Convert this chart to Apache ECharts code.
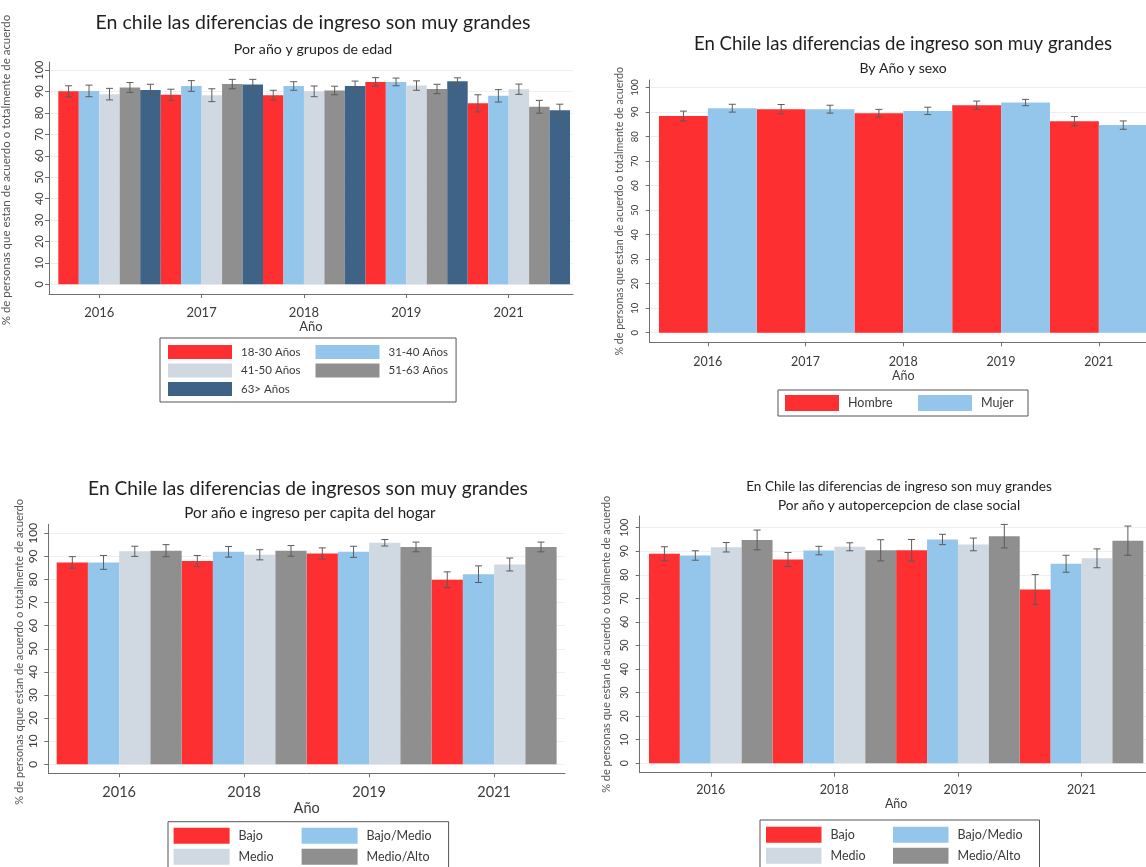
<!DOCTYPE html>
<html><head><meta charset="utf-8">
<script src="https://cdn.jsdelivr.net/npm/echarts@6/dist/echarts.min.js"></script>
<style>html,body{margin:0;padding:0;background:#fff}#c{width:1146px;height:867px}</style>
</head><body><div id="c"></div>
<script>
// ---------- data ----------
const YEARS_A = ['2016','2017','2018','2019','2021'];
const YEARS_B = ['2016','2018','2019','2021'];
const Y_TICKS = [0,10,20,30,40,50,60,70,80,90,100];

// Panel 1: por año y grupos de edad
const AGE_NAMES = ['18-30 Años','31-40 Años','41-50 Años','51-63 Años','63> Años'];
const AGE_18_30 = [90.1, 88.5, 88.3, 94.5, 84.5];
const AGE_31_40 = [90.3, 92.6, 92.6, 94.5, 88.0];
const AGE_41_50 = [88.8, 88.3, 90.1, 92.8, 91.1];
const AGE_51_63 = [91.9, 93.5, 90.5, 91.2, 82.9];
const AGE_63_UP = [90.7, 93.3, 92.6, 94.8, 81.3];
const AGE_18_30_ERR = [2.6, 2.6, 2.3, 2.0, 4.0];
const AGE_31_40_ERR = [2.7, 2.5, 2.0, 1.8, 2.9];
const AGE_41_50_ERR = [2.7, 3.0, 2.5, 2.2, 2.4];
const AGE_51_63_ERR = [2.3, 2.2, 2.0, 2.2, 3.0];
const AGE_63_UP_ERR = [2.7, 2.4, 2.3, 1.6, 2.8];

// Panel 2: por año y sexo
const SEX_NAMES = ['Hombre','Mujer'];
const HOMBRE = [88.4, 91.2, 89.5, 92.8, 86.3];
const MUJER  = [91.6, 91.2, 90.5, 93.9, 84.7];
const HOMBRE_ERR = [2.0, 1.9, 1.6, 1.7, 1.9];
const MUJER_ERR  = [1.6, 1.6, 1.5, 1.3, 1.7];

// Panel 3: ingreso per capita del hogar
const LEVEL_NAMES = ['Bajo','Bajo/Medio','Medio','Medio/Alto'];
const ING_BAJO       = [87.4, 88.0, 91.3, 79.9];
const ING_BAJO_MEDIO = [87.4, 92.0, 92.0, 82.3];
const ING_MEDIO      = [92.2, 90.7, 95.9, 86.5];
const ING_MEDIO_ALTO = [92.5, 92.4, 94.1, 94.1];
const ING_BAJO_ERR       = [2.5, 2.4, 2.4, 3.4];
const ING_BAJO_MEDIO_ERR = [3.0, 2.3, 2.4, 3.6];
const ING_MEDIO_ERR      = [2.2, 2.2, 1.4, 2.8];
const ING_MEDIO_ALTO_ERR = [2.6, 2.3, 2.1, 2.1];

// Panel 4: autopercepcion de clase social
const CLS_BAJO       = [88.9, 86.5, 90.4, 73.8];
const CLS_BAJO_MEDIO = [88.2, 90.3, 95.0, 84.7];
const CLS_MEDIO      = [91.7, 91.9, 92.9, 87.0];
const CLS_MEDIO_ALTO = [94.8, 90.4, 96.4, 94.5];
const CLS_BAJO_ERR       = [3.0, 3.0, 4.6, 6.3];
const CLS_BAJO_MEDIO_ERR = [2.0, 1.8, 2.2, 3.6];
const CLS_MEDIO_ERR      = [2.0, 1.7, 2.7, 4.0];
const CLS_MEDIO_ALTO_ERR = [4.2, 4.5, 5.0, 6.2];

// ---------- style ----------
const FONT = 'Lato';
const RED = '#fd2f30', LBLUE = '#93c6ea', LGRAY = '#d0d9e2', GRAY = '#8f8f8f', DBLUE = '#3f6387';
const AX = '#6f6f6f', ERRC = '#5c5c5c', TXT = '#3a3a3a';

function barSeries(name, color, values, errs, k, n, gi) {
  const half = Math.floor(n / 2);
  return {
    type: 'custom', name: name, xAxisIndex: gi, yAxisIndex: gi,
    itemStyle: { color: color },
    data: values.map((v, g) => [g, v, errs[g]]),
    encode: { x: 0, y: 1 },
    renderItem: function (params, api) {
      const g = api.value(0), v = api.value(1), e = api.value(2);
      const x0 = g - half / n + k / n, x1 = x0 + 1 / n, xc = (x0 + x1) / 2;
      const a = api.coord([x0, v]), b = api.coord([x1, 0]);
      const lo = api.coord([xc, v - e]), hi = api.coord([xc, v + e]);
      const cw = 3.5;
      return { type: 'group', children: [
        { type: 'rect', shape: { x: a[0], y: a[1], width: b[0] - a[0], height: b[1] - a[1] }, style: { fill: color } },
        { type: 'line', shape: { x1: lo[0], y1: lo[1], x2: hi[0], y2: hi[1] }, style: { stroke: ERRC, lineWidth: 1 } },
        { type: 'line', shape: { x1: lo[0] - cw, y1: lo[1], x2: lo[0] + cw, y2: lo[1] }, style: { stroke: ERRC, lineWidth: 1 } },
        { type: 'line', shape: { x1: hi[0] - cw, y1: hi[1], x2: hi[0] + cw, y2: hi[1] }, style: { stroke: ERRC, lineWidth: 1 } }
      ]};
    }
  };
}

function xAxisCfg(gi, years, min, max, labelSize, margin, nameGap) {
  const idx = years.map((_, i) => i);
  return {
    type: 'value', gridIndex: gi, min: min, max: max,
    axisLine: { show: true, onZero: false, lineStyle: { color: AX } },
    axisTick: { show: true, length: 4, customValues: idx, lineStyle: { color: AX } },
    axisLabel: { customValues: idx, formatter: v => years[Math.round(v)], fontFamily: FONT, fontSize: labelSize, color: TXT, margin: margin },
    splitLine: { show: false },
    name: 'Año', nameLocation: 'middle', nameGap: nameGap,
    nameTextStyle: { fontFamily: FONT, fontSize: labelSize, color: TXT }
  };
}

function yAxisCfg(gi, min, max, labelSize, margin, title, titleSize, nameGap, shift) {
  return {
    type: 'value', gridIndex: gi, min: min, max: max,
    axisLine: { show: true, onZero: false, lineStyle: { color: AX } },
    axisTick: { show: true, length: 4, customValues: Y_TICKS, lineStyle: { color: AX } },
    axisLabel: { customValues: Y_TICKS, rotate: 90, fontFamily: FONT, fontSize: labelSize, color: TXT, margin: margin },
    splitLine: { show: true, lineStyle: { color: '#efefef', width: 1 } },
    name: title, nameLocation: 'middle', nameRotate: 90, nameGap: nameGap,
    nameTextStyle: { fontFamily: FONT, fontSize: titleSize, color: '#555',
      padding: shift > 0 ? [0, 0, 0, shift] : [0, -shift, 0, 0] }
  };
}

function legendCfg(names, left, top, pad, iw, ih, gap, tw, lastW, width, fs) {
  return {
    left: left, top: top, width: width, orient: 'horizontal', padding: pad,
    itemWidth: iw, itemHeight: ih, itemGap: gap, icon: 'rect', selectedMode: false,
    borderColor: '#555', borderWidth: 1, backgroundColor: '#fff',
    textStyle: { fontFamily: FONT, fontSize: fs, color: TXT, lineHeight: ih, width: tw, padding: [0, 0, 0, 4] },
    data: names.map((nm, i) => (i % 2 === 1 ? { name: nm, textStyle: { width: lastW } } : nm))
  };
}

function titleCfg(text, cx, cy, size) {
  return { text: text, left: cx, top: cy, textAlign: 'center', textVerticalAlign: 'middle', padding: 0,
    textStyle: { fontFamily: FONT, fontSize: size, fontWeight: 'normal', color: '#1f1f1f' } };
}

const AGE_COLORS = [RED, LBLUE, LGRAY, GRAY, DBLUE];
const LVL_COLORS = [RED, LBLUE, LGRAY, GRAY];

const series = [];
[AGE_18_30, AGE_31_40, AGE_41_50, AGE_51_63, AGE_63_UP].forEach((vals, k) => {
  const errs = [AGE_18_30_ERR, AGE_31_40_ERR, AGE_41_50_ERR, AGE_51_63_ERR, AGE_63_UP_ERR][k];
  series.push(barSeries(AGE_NAMES[k], AGE_COLORS[k], vals, errs, k, 5, 0));
});
series.push(barSeries(SEX_NAMES[0], RED, HOMBRE, HOMBRE_ERR, 0, 2, 1));
series.push(barSeries(SEX_NAMES[1], LBLUE, MUJER, MUJER_ERR, 1, 2, 1));
[ING_BAJO, ING_BAJO_MEDIO, ING_MEDIO, ING_MEDIO_ALTO].forEach((vals, k) => {
  const errs = [ING_BAJO_ERR, ING_BAJO_MEDIO_ERR, ING_MEDIO_ERR, ING_MEDIO_ALTO_ERR][k];
  series.push(barSeries(LEVEL_NAMES[k], LVL_COLORS[k], vals, errs, k, 4, 2));
});
[CLS_BAJO, CLS_BAJO_MEDIO, CLS_MEDIO, CLS_MEDIO_ALTO].forEach((vals, k) => {
  const errs = [CLS_BAJO_ERR, CLS_BAJO_MEDIO_ERR, CLS_MEDIO_ERR, CLS_MEDIO_ALTO_ERR][k];
  series.push(barSeries(LEVEL_NAMES[k], LVL_COLORS[k], vals, errs, k, 4, 3));
});

const option = {
  backgroundColor: '#ffffff',
  animation: false,
  title: [
    titleCfg('En chile las diferencias de ingreso son muy grandes', 313, 23, 19.5),
    titleCfg('Por año y grupos de edad', 313, 49, 14.2),
    titleCfg('En Chile las diferencias de ingreso son muy grandes', 903, 44, 18.6),
    titleCfg('By Año y sexo', 903, 68, 14),
    titleCfg('En Chile las diferencias de ingresos son muy grandes', 308, 489, 19.2),
    titleCfg('Por año e ingreso per capita del hogar', 310, 513, 15.2),
    titleCfg('En Chile las diferencias de ingreso son muy grandes', 899, 487, 13.6),
    titleCfg('Por año y autopercepcion de clase social', 899, 506, 13.7)
  ],
  grid: [
    { left: 49, top: 62, width: 524, height: 232, containLabel: false, outerBoundsMode: 'none' },
    { left: 649.7, top: 80, width: 507.3, height: 262.3, containLabel: false, outerBoundsMode: 'none' },
    { left: 48.3, top: 524.3, width: 516.7, height: 249, containLabel: false, outerBoundsMode: 'none' },
    { left: 639.7, top: 516, width: 512.9, height: 256.7, containLabel: false, outerBoundsMode: 'none' }
  ],
  xAxis: [
    xAxisCfg(0, YEARS_A, -0.491, 4.629, 13, 12, 24),
    xAxisCfg(1, YEARS_A, -0.595, 4.595, 12.5, 13, 25),
    xAxisCfg(2, YEARS_B, -0.567, 3.567, 14.5, 12, 27),
    xAxisCfg(3, YEARS_B, -0.575, 3.575, 12.5, 11, 25)
  ],
  yAxis: [
    yAxisCfg(0, -4.5, 103.8, 11, 4, '% de personas que estan de acuerdo o totalmente de acuerdo', 11.5, 37, 16),
    yAxisCfg(1, -3.9, 103.1, 9.5, 10, '% de personas que estan de acuerdo o totalmente de acuerdo', 10.7, 25, 0),
    yAxisCfg(2, -3.9, 103.9, 12, 9, '% de personas qque estan de acuerdo o totalmente de acuerdo', 11.1, 23, -6),
    yAxisCfg(3, -4.0, 104.97, 10.5, 10, '% de personas que estan de acuerdo o totalmente de acuerdo', 11, 28, 0)
  ],
  legend: [
    legendCfg(AGE_NAMES, 160, 338, [7, 8, 6, 8], 64, 14, 4.5, 70, 56, 300, 11.5),
    legendCfg(SEX_NAMES, 778, 390, [5, 9, 5, 7], 54, 16, 10, 60, 38, 250, 12.5),
    legendCfg(LEVEL_NAMES, 168, 821.7, [6, 8, 6, 5.6], 56, 16, 5, 58, 74, 280, 12.5),
    legendCfg(LEVEL_NAMES, 760, 820, [6.7, 8, 6, 6], 55.5, 16, 5, 57.5, 74, 280, 12.5)
  ],
  series: series
};

const chart = echarts.init(document.getElementById('c'), null, { renderer: 'canvas' });
chart.setOption(option);
</script>
</body></html>
